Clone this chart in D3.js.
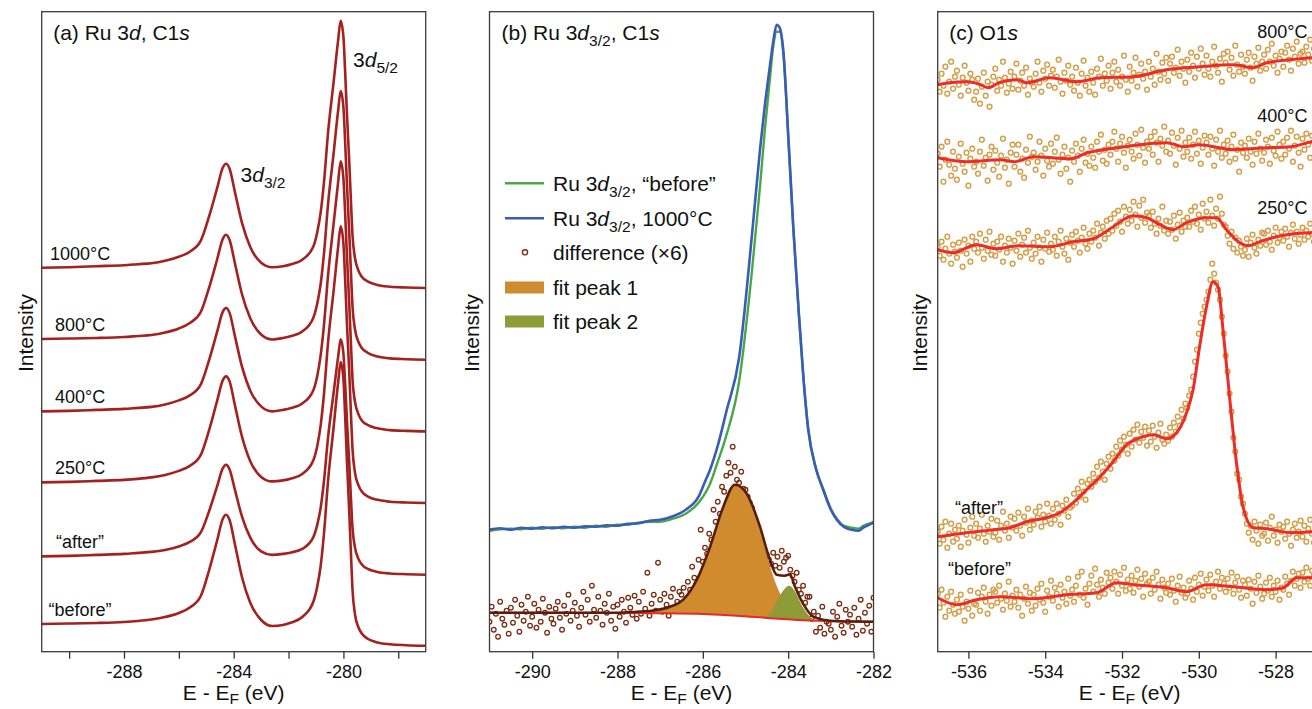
<!DOCTYPE html>
<html>
<head>
<meta charset="utf-8">
<script src="https://cdn.jsdelivr.net/npm/d3@7"></script>
<style>
  body { margin: 0; background: #fff; }
  text { font-family: "Liberation Sans", Arial, sans-serif; fill: #111; }
</style>
</head>
<body>
<svg id="fig" width="1312" height="709"></svg>
<script>
// ---------- panel (a): Ru 3d, C1s stacked spectra ----------
var aEnergy = [-291, -290, -289, -288, -287.5, -287, -286.5, -286, -285.6, -285.2,
  -284.9, -284.6, -284.4, -284.28, -284.15, -283.95, -283.7, -283.4, -283.0, -282.6,
  -282.2, -281.9, -281.5, -281.1, -280.95, -280.83, -280.71, -280.56, -280.36, -280.19,
  -280.1, -280.0, -279.94, -279.87, -279.79, -279.72, -279.67, -279.58, -279.45, -279.33,
  -279.1, -278.8, -278.3, -277.7, -277];
var aLabels = ["1000°C", "800°C", "400°C", "250°C", "\u201Cafter\u201D", "\u201Cbefore\u201D"];
var aOffsets = [384, 312.7, 240.3, 169.3, 95.3, 27.7];
var a1000 = [0, 0.5, 1.5, 2.5, 3.5, 4.5, 7, 11, 16, 27, 51, 80, 100, 104, 99, 75, 45, 21, 5, 0.5,
  1.5, 3.5, 8, 21, 36, 55, 85, 135, 185, 228, 247, 231, 198, 153, 108, 63, 33, 10, -3, -9,
  -14, -17, -19, -19.8, -20.3];
var a800 = [0, 0.5, 1, 2, 3, 4, 6.5, 10.5, 16, 27, 51, 80, 100, 104.3, 99, 75, 45, 21, 4.5, -0.5,
  1, 3, 7.5, 21, 36, 55, 85, 135, 185, 229, 248, 232, 199, 154, 108, 63, 33, 10, -3, -9,
  -14, -17.3, -19.4, -20.2, -20.7];
var a400 = [0, 0.5, 1.5, 2.5, 3.5, 4.5, 7, 11, 16, 27, 51, 80, 99.5, 103.4, 98.5, 74.5, 45, 21, 5, 0,
  1.5, 3.5, 8, 21, 36, 56, 86, 136, 187, 230, 250, 233, 200, 155, 109, 64, 33, 10, -3, -9,
  -13.8, -16.7, -18.7, -19.5, -20];
var a250 = [0, 0.5, 1.5, 2.5, 3.5, 5, 7.5, 11.5, 16.5, 27.5, 52, 82, 102, 106, 101, 76.5, 46, 21.5, 5.5, 1,
  2, 4, 8.5, 22, 37, 57, 88, 140, 191, 236, 256, 239, 205, 158, 112, 65, 34, 10, -3, -9,
  -14.2, -17.2, -19.3, -20.1, -20.6];
var aAfter = [0, 0.5, 1.5, 2.5, 3.5, 4.5, 6.5, 10, 14.5, 24, 45, 70.5, 88, 91.7, 87, 66, 40, 19, 5, 1.5,
  2.5, 4, 7.5, 19, 32, 48.5, 75, 119, 163, 200, 217, 203, 174, 135, 95, 55, 29, 9, -2.5, -8,
  -12.6, -15.3, -17.1, -17.8, -18.3];
var aBefore = [0, 0.5, 1, 2, 3, 4.5, 7, 11, 16.5, 28, 53.5, 84, 105, 109.3, 104, 79, 47, 21.5, 4, -2,
  -1, 1.5, 7, 22, 38, 58, 90, 143, 196, 242, 262, 245, 210, 162, 114, 67, 35, 10, -3.5, -9.5,
  -15, -18.2, -20.3, -21.2, -21.7];
var aSeries = [a1000, a800, a400, a250, aAfter, aBefore];
var aTicks = [-290, -288, -286, -284, -282, -280, -278];

// ---------- panel (b): Ru 3d3/2 + difference fit ----------
var bEnergy = [-291, -290.75, -290.5, -290.25, -290, -289.75, -289.5, -289.25, -289, -288.75,
  -288.5, -288.25, -288, -287.75, -287.5, -287.25, -287, -286.7, -286.4, -286.1,
  -285.95, -285.83, -285.65, -285.45, -285.15, -284.85, -284.66, -284.55, -284.43, -284.35,
  -284.27, -284.2, -284.11, -284.0, -283.88, -283.76, -283.65, -283.53, -283.35, -283.18,
  -283.0, -282.86, -282.7, -282.51, -282.35, -282.24, -282.1, -282];
var bBefore = [121, 122.5, 123, 122.5, 124, 123, 124.5, 123.5, 125, 124,
  126, 125, 127, 127, 129, 130, 130, 133, 138, 149,
  158, 168, 190, 216, 270, 380, 465, 520, 572, 605,
  620, 620, 597, 516, 423, 344, 278, 223, 184, 163,
  143, 133, 126, 124, 123, 126, 128, 130];
var b1000 = [122, 123.5, 122, 124, 123, 124.5, 123.5, 125, 124, 125.5,
  125, 126.5, 126, 128, 128.5, 131, 132, 135.5, 142, 155,
  170, 182, 206, 240, 294, 416, 502, 545, 585, 610,
  627, 624, 599, 518, 425, 345, 278, 222, 183, 162,
  142, 132, 125, 122, 121, 124, 127, 129];

var diffStart = -291, diffStep = 0.05;
var bDiff = [30, 45, 22, 38, 15, 50, 33, 27, 41, 18,
  44, 29, 52, 36, 20, 47, 31, 40, 55, 26,
  35, 48, 24, 42, 30, 53, 39, 19, 45, 33,
  28, 43, 50, 34, 22, 46, 38, 57, 31, 41,
  49, 36, 25, 44, 60, 37, 52, 30, 66, 42,
  34, 55, 41, 27, 48, 39, 58, 31, 45, 23,
  47, 35, 52, 40, 29, 54, 44, 37, 56, 33,
  50, 38, 60, 43, 79, 36, 48, 57, 41, 89,
  52, 40, 58, 47, 36, 55, 63, 44, 50, 60,
  57, 64, 49, 70, 62, 85, 74, 68, 92, 122,
  90, 104, 98, 118, 112, 142, 130, 150, 138, 165,
  160, 176, 189, 179, 205, 185, 172, 169, 180, 163,
  162, 155, 149, 144, 135, 128, 118, 112, 100, 95,
  97, 92, 88, 99, 86, 95, 84, 101, 90, 94,
  96, 82, 76, 70, 79, 62, 58, 66, 49, 55,
  55, 33, 40, 20, 36, 24, 45, 18, 30, 28,
  22, 40, 15, 35, 48, 26, 19, 42, 30, 37,
  25, 44, 17, 33, 52, 21, 39, 28, 46, 20,
  54];

var peak1Energy = [-287.6, -287.2, -286.77, -286.46, -286.14, -285.83, -285.52, -285.25,
  -284.97, -284.66, -284.43, -284.27, -284.08, -283.84, -283.6, -283.3];
var peak1Base = [38.6, 38.5, 38.3, 38.0, 37.8, 37.3, 36.7, 36.1, 35.3, 34.3, 33.5, 33.0, 32.5, 31.9, 31.3, 30.9];
var peak1Top = [38.6, 40, 44, 51, 71, 104, 144, 166, 157, 122, 86, 66, 50, 40, 34, 30.9];
var peak2Energy = [-284.6, -284.4, -284.25, -284.1, -283.98, -283.85, -283.7, -283.55, -283.35];
var peak2Base = [34.1, 33.4, 32.9, 32.5, 32.2, 31.8, 31.5, 31.2, 30.8];
var peak2Top = [34.1, 40, 52, 62, 66, 61, 48, 38, 30.8];
var envEnergy = [-291, -289, -288, -287.55, -287.2, -286.77, -286.46, -286.14, -285.83, -285.52,
  -285.25, -284.97, -284.66, -284.43, -284.27, -284.08, -283.96, -283.84, -283.65, -283.41,
  -283.02, -282.5, -282];
var envValue = [39, 39, 39, 40, 41, 45, 52, 72, 105, 145, 167, 158, 125, 92, 77, 76, 77.4, 65, 48, 35, 31, 30.2, 30];
var bgEnergy = [-291, -288, -287, -286, -285.2, -284.4, -283.65, -282.9, -282];
var bgValue = [39, 38.8, 38.5, 37.7, 36, 33.4, 31.4, 30.4, 30];
var bTicks = [-290, -288, -286, -284, -282];
var bLegend = ["before", "1000", "difference (×6)", "fit peak 1", "fit peak 2"];

// ---------- panel (c): O1s ----------
var cLabels = ["800°C", "400°C", "250°C", "\u201Cafter\u201D", "\u201Cbefore\u201D"];
var c800E = [-536.8, -536.5, -536.04, -535.75, -535.48, -535.2, -534.74, -534.48, -533.88, -533.18,
  -532.57, -531.71, -530.84, -529.98, -529.1, -528.58, -528.23, -527.05, -526.8];
var c800V = [567, 569, 570, 568, 564, 569, 572, 569, 574, 570, 574, 575, 582, 585, 587, 584, 589, 594, 595];
var c400E = [-536.8, -536.04, -535.17, -534.8, -534.3, -533.34, -532.9, -532.12, -530.84, -530.4,
  -529.98, -529.1, -528.23, -527.6, -527.05, -526.8];
var c400V = [494, 490, 492, 490, 495, 493, 499, 504, 509, 505, 507, 502, 504, 505, 510, 511];
var c250E = [-536.8, -536.4, -535.79, -535.27, -534.7, -533.88, -533.27, -532.75, -532.23, -531.71,
  -531.36, -531.01, -530.67, -530.32, -529.8, -529.54, -529.28, -528.93, -528.71, -528.41,
  -527.98, -527.05, -526.8];
var c250V = [402, 399, 407, 403, 406, 405, 410, 413, 425, 436, 434, 427, 422, 429, 434, 434, 422, 409, 406, 410, 415, 419, 419];
var cAfterE = [-536.8, -536.04, -535.35, -534.92, -534.48, -533.96, -533.62, -533.27, -532.92, -532.57,
  -532.23, -531.88, -531.53, -531.19, -530.84, -530.58, -530.32, -530.15, -529.98, -529.8,
  -529.63, -529.5, -529.37, -529.2, -529.02, -528.85, -528.58, -528.23, -527.6, -527.05, -526.8];
var cAfterV = [115, 119, 122, 124, 130, 134, 139, 149, 162, 175, 190, 207, 214, 217, 213, 219, 239, 262, 305, 345,
  370, 365, 322, 255, 189, 145, 124, 123, 119, 120, 121];
var cBeforeE = [-536.8, -536.3, -535.79, -535.17, -534.3, -533.44, -532.66, -532.14, -531.71, -530.84,
  -530.32, -529.8, -529.1, -528.23, -527.8, -527.45, -527.05, -526.8];
var cBeforeV = [54, 47, 52, 55, 53, 57, 59, 69, 67, 64, 60, 67, 65, 62, 64, 74, 74, 74];

var cDotStart = -536.8, cDotStep = 0.05;
var cDot800 = [572, 560, 578, 566, 585, 558, 570, 590, 563, 575, 581, 567, 556, 574, 586, 569, 561, 578, 572, 552,
  560, 573, 548, 565, 579, 556, 570, 545, 567, 575, 583, 561, 572, 566, 590, 574, 559, 568, 580, 563,
  575, 588, 562, 571, 579, 566, 584, 557, 573, 569, 565, 578, 590, 569, 560, 581, 573, 587, 566, 576,
  582, 564, 575, 592, 570, 558, 579, 571, 586, 567, 575, 561, 584, 569, 556, 578, 591, 566, 574, 560,
  580, 569, 557, 583, 575, 593, 566, 578, 571, 586, 563, 579, 590, 570, 582, 566, 575, 596, 572, 560,
  585, 571, 579, 594, 565, 577, 588, 573, 580, 562, 590, 575, 583, 567, 598, 580, 572, 589, 578, 594,
  571, 588, 595, 579, 584, 602, 576, 590, 583, 569, 592, 580, 599, 586, 574, 595, 583, 603, 588, 577,
  596, 583, 575, 590, 605, 586, 579, 593, 570, 598, 589, 600, 582, 594, 576, 606, 587, 580, 597, 585,
  578, 592, 599, 584, 571, 595, 588, 604, 581, 590, 597, 583, 602, 590, 608, 586, 596, 579, 593, 600,
  585, 599, 606, 592, 581, 603, 595, 610, 588, 598, 600, 589, 605, 597, 612, 591, 603, 585, 599, 608,
  596];
var cDot400 = [498, 485, 505, 470, 492, 510, 487, 476, 500, 483, 472, 495, 508, 488, 480, 499, 466, 493, 503, 485,
  490, 478, 500, 512, 486, 494, 471, 497, 505, 482, 501, 489, 475, 496, 513, 484, 492, 468, 499, 507,
  485, 497, 507, 480, 493, 474, 502, 489, 515, 495, 499, 482, 490, 510, 496, 476, 503, 491, 485, 508,
  488, 500, 514, 492, 478, 497, 505, 483, 494, 470, 501, 490, 508, 496, 480, 503, 512, 489, 498, 486,
  505, 494, 484, 510, 500, 517, 491, 502, 488, 507, 497, 510, 520, 503, 490, 508, 515, 499, 484, 506,
  512, 500, 493, 518, 507, 496, 522, 504, 489, 510, 503, 515, 497, 520, 509, 490, 513, 506, 525, 500,
  511, 498, 519, 506, 487, 514, 503, 521, 495, 509, 500, 514, 493, 507, 520, 498, 511, 488, 504, 516,
  509, 497, 515, 503, 486, 512, 500, 521, 494, 507, 498, 511, 490, 505, 517, 493, 502, 480, 509, 499,
  506, 494, 513, 500, 487, 510, 498, 518, 503, 491, 499, 512, 505, 488, 514, 501, 496, 520, 507, 493,
  510, 497, 514, 503, 521, 490, 506, 515, 499, 485, 513, 502, 518, 507, 494, 516, 510, 523, 505, 512,
  511];
var cDot250 = [405, 396, 410, 392, 403, 415, 398, 388, 407, 400, 394, 409, 401, 385, 412, 398, 406, 390, 415, 403,
  410, 399, 418, 404, 393, 412, 401, 420, 397, 408, 396, 410, 402, 415, 390, 406, 399, 413, 404, 388,
  411, 401, 418, 395, 407, 414, 399, 421, 404, 393, 409, 398, 415, 404, 390, 412, 403, 419, 400, 408,
  402, 415, 396, 410, 421, 405, 398, 413, 392, 409, 417, 405, 420, 411, 399, 414, 424, 408, 403, 418,
  410, 421, 414, 428, 406, 419, 425, 413, 431, 418, 433, 421, 438, 426, 441, 430, 420, 445, 435, 428,
  442, 431, 450, 437, 425, 446, 434, 452, 429, 439, 436, 424, 440, 428, 418, 433, 426, 445, 421, 431,
  418, 430, 422, 436, 413, 427, 439, 420, 431, 425, 434, 425, 441, 430, 445, 428, 437, 422, 448, 433,
  440, 429, 452, 436, 426, 443, 433, 455, 438, 427, 425, 416, 408, 420, 403, 414, 399, 411, 405, 396,
  402, 413, 395, 409, 417, 404, 398, 412, 406, 419, 418, 407, 421, 410, 402, 416, 424, 409, 414, 420,
  411, 423, 415, 405, 419, 427, 413, 420, 408, 417, 424, 412, 421, 415, 428, 418, 410, 425, 419, 422,
  420];
var cDotAfter = [120, 108, 125, 112, 130, 104, 118, 128, 110, 122, 113, 126, 105, 121, 132, 117, 109, 124, 135, 116,
  128, 114, 123, 137, 118, 110, 126, 120, 133, 115, 119, 131, 112, 126, 140, 121, 128, 114, 135, 124,
  133, 121, 139, 126, 116, 135, 129, 143, 122, 131, 127, 140, 134, 145, 125, 137, 130, 148, 136, 128,
  143, 132, 148, 138, 127, 146, 141, 152, 135, 144, 146, 158, 149, 163, 155, 170, 160, 152, 168, 172,
  165, 178, 170, 185, 174, 190, 180, 172, 188, 195, 183, 198, 191, 205, 196, 211, 202, 215, 207, 198,
  218, 205, 222, 212, 227, 209, 220, 214, 225, 206, 221, 210, 226, 215, 204, 219, 228, 212, 208, 217,
  211, 224, 215, 229, 220, 235, 226, 242, 233, 248, 244, 256, 262, 275, 290, 302, 318, 329, 338, 345,
  352, 360, 372, 388, 378, 369, 362, 352, 335, 318, 296, 280, 258, 240, 214, 200, 178, 172, 155, 148,
  138, 128, 119, 126, 112, 130, 121, 108, 127, 116, 118, 129, 111, 124, 135, 116, 122, 109, 127, 120,
  125, 113, 130, 118, 106, 122, 128, 114, 120, 131, 115, 126, 110, 123, 132, 118, 109, 124, 119, 127,
  121];
var cDotBefore = [58, 44, 62, 49, 35, 55, 41, 60, 47, 38, 52, 40, 57, 45, 31, 50, 43, 61, 36, 48,
  47, 59, 41, 55, 64, 50, 38, 57, 46, 62, 60, 49, 66, 53, 42, 58, 51, 70, 45, 56,
  50, 62, 44, 57, 36, 53, 65, 48, 59, 41, 57, 46, 63, 52, 68, 49, 40, 61, 55, 71,
  51, 64, 58, 45, 67, 54, 60, 48, 73, 56, 62, 50, 66, 75, 57, 80, 54, 63, 47, 68,
  76, 60, 83, 67, 55, 72, 64, 58, 79, 69, 74, 63, 80, 70, 58, 77, 66, 84, 61, 72,
  63, 76, 59, 71, 82, 65, 73, 55, 78, 68, 70, 58, 74, 62, 80, 67, 53, 72, 64, 59,
  68, 57, 73, 61, 50, 66, 75, 59, 64, 54, 58, 71, 63, 52, 74, 60, 67, 78, 56, 65,
  72, 61, 77, 66, 55, 70, 80, 63, 74, 68, 60, 73, 64, 79, 58, 69, 75, 62, 54, 71,
  67, 56, 72, 63, 48, 70, 59, 76, 65, 53, 58, 69, 61, 74, 55, 66, 60, 71, 52, 64,
  62, 75, 68, 57, 71, 80, 66, 73, 78, 64, 79, 70, 84, 73, 66, 81, 76, 69, 83, 75,
  77];
var cTicks = [-536, -534, -532, -530, -528];

// ---------- layout ----------
var svg = d3.select("#fig");
var plotTop = 11.7, plotBottom = 651.7, plotW = 384;
var y = d3.scaleLinear().domain([0, 640]).range([plotBottom, plotTop]);
var FONT = "'Liberation Sans', Arial, sans-serif";

function richText(sel, parts, size, subShift) {
  var shift = subShift || size * 0.3, down = false;
  parts.forEach(function(p) {
    if (typeof p === "string") p = {t: p};
    var ts = sel.append("tspan").text(p.t);
    if (p.it) ts.attr("font-style", "italic");
    if (p.sub) {
      ts.attr("font-size", size * 0.74).attr("dy", shift);
      down = true;
    } else if (down) {
      ts.attr("dy", -shift);
      down = false;
    }
  });
  return sel;
}

function makePanel(id, left, domain, ticks, tickFmt, ylabX) {
  var x = d3.scaleLinear().domain(domain).range([left, left + plotW]);
  var g = svg.append("g");
  g.append("clipPath").attr("id", "clip-" + id).append("rect")
    .attr("x", left).attr("y", plotTop).attr("width", plotW).attr("height", plotBottom - plotTop);
  var plot = g.append("g").attr("clip-path", "url(#clip-" + id + ")");

  var axis = d3.axisBottom(x).tickValues(ticks).tickSize(7).tickPadding(7).tickFormat(tickFmt);
  var ax = g.append("g").attr("transform", "translate(0," + plotBottom + ")").call(axis);
  ax.select(".domain").remove();
  ax.attr("font-family", FONT).attr("font-size", 18);
  ax.selectAll("line").attr("stroke", "#333").attr("stroke-width", 1.3);
  ax.selectAll("text").attr("fill", "#111");

  g.append("rect").attr("x", left).attr("y", plotTop).attr("width", plotW)
    .attr("height", plotBottom - plotTop).attr("fill", "none")
    .attr("stroke", "#3a3a3a").attr("stroke-width", 1.3);

  // axis title sits a little higher than the original so the subscript stays inside the page
  richText(g.append("text").attr("x", left + plotW / 2).attr("y", 700)
    .attr("text-anchor", "middle").attr("font-size", 21), ["E - E", {t: "F", sub: 1}, " (eV)"], 21, 4);

  g.append("text").attr("transform", "translate(" + ylabX + ",333) rotate(-90)")
    .attr("text-anchor", "middle").attr("font-size", 21).text("Intensity");

  return {x: x, g: g, plot: plot, left: left};
}

function plain(d) { return String(d); }

// ---------- draw panel (a) ----------
var pa = makePanel("a", 41.7, [-291, -277], aTicks,
  function(d) { return d % 4 === 0 ? String(d) : ""; }, 33);
var lineA = d3.line().curve(d3.curveMonotoneX)
  .x(function(d) { return pa.x(d[0]); }).y(function(d) { return y(d[1]); });
aSeries.forEach(function(vals, k) {
  var pts = aEnergy.map(function(e, i) { return [e, aOffsets[k] + vals[i]]; });
  pa.plot.append("path").datum(pts).attr("d", lineA)
    .attr("fill", "none").attr("stroke", "#a3211f").attr("stroke-width", 2.6)
    .attr("stroke-linejoin", "round");
  pa.g.append("text").attr("x", pa.x(-289.6)).attr("y", y(aOffsets[k]) - 8)
    .attr("text-anchor", "middle").attr("font-size", 18).text(aLabels[k]);
});
richText(pa.g.append("text").attr("x", pa.left + 11.5).attr("y", 40).attr("font-size", 21),
  ["(a) Ru 3", {t: "d", it: 1}, ", C1", {t: "s", it: 1}], 21);
richText(pa.g.append("text").attr("x", pa.x(-283.75)).attr("y", 181.5).attr("font-size", 21),
  ["3", {t: "d", it: 1}, {t: "3/2", sub: 1}], 21);
richText(pa.g.append("text").attr("x", pa.x(-279.65)).attr("y", 66.5).attr("font-size", 21),
  ["3", {t: "d", it: 1}, {t: "5/2", sub: 1}], 21);

// ---------- draw panel (b) ----------
var pb = makePanel("b", 489.5, [-291, -282], bTicks, plain, 479);
var lineB = d3.line().curve(d3.curveMonotoneX)
  .x(function(d) { return pb.x(d[0]); }).y(function(d) { return y(d[1]); });
var areaB = d3.area().curve(d3.curveMonotoneX)
  .x(function(d) { return pb.x(d[0]); }).y0(function(d) { return y(d[1]); }).y1(function(d) { return y(d[2]); });

var diffPts = bDiff.map(function(v, i) { return [diffStart + i * diffStep, v]; });
pb.plot.selectAll("circle.diff").data(diffPts).enter().append("circle")
  .attr("class", "diff").attr("cx", function(d) { return pb.x(d[0]); })
  .attr("cy", function(d) { return y(d[1]); }).attr("r", 2.3)
  .attr("fill", "none").attr("stroke", "#7b2d12").attr("stroke-width", 1.3);

pb.plot.append("path").datum(peak1Energy.map(function(e, i) { return [e, peak1Base[i], peak1Top[i]]; }))
  .attr("d", areaB).attr("fill", "#d08b2e");
pb.plot.append("path").datum(peak2Energy.map(function(e, i) { return [e, peak2Base[i], peak2Top[i]]; }))
  .attr("d", areaB).attr("fill", "#8e9b37");
pb.plot.append("path").datum(bgEnergy.map(function(e, i) { return [e, bgValue[i]]; }))
  .attr("d", lineB).attr("fill", "none").attr("stroke", "#e52a2a").attr("stroke-width", 2);
pb.plot.append("path").datum(envEnergy.map(function(e, i) { return [e, envValue[i]]; }))
  .attr("d", lineB).attr("fill", "none").attr("stroke", "#5a1d0c").attr("stroke-width", 2.6);
pb.plot.append("path").datum(bEnergy.map(function(e, i) { return [e, bBefore[i]]; }))
  .attr("d", lineB).attr("fill", "none").attr("stroke", "#46a846").attr("stroke-width", 2.4);
pb.plot.append("path").datum(bEnergy.map(function(e, i) { return [e, b1000[i]]; }))
  .attr("d", lineB).attr("fill", "none").attr("stroke", "#3b5bb8").attr("stroke-width", 2.6);

richText(pb.g.append("text").attr("x", pb.left + 12).attr("y", 40).attr("font-size", 21),
  ["(b) Ru 3", {t: "d", it: 1}, {t: "3/2", sub: 1}, ", C1", {t: "s", it: 1}], 21);

// legend
var legRows = [183.3, 218.3, 252.3, 287.5, 321.5];
var legX = pb.left + 15.5;
var leg = pb.g.append("g");
leg.append("line").attr("x1", legX).attr("x2", legX + 39).attr("y1", legRows[0]).attr("y2", legRows[0])
  .attr("stroke", "#46a846").attr("stroke-width", 2.6);
leg.append("line").attr("x1", legX).attr("x2", legX + 39).attr("y1", legRows[1]).attr("y2", legRows[1])
  .attr("stroke", "#3b5bb8").attr("stroke-width", 2.6);
leg.append("circle").attr("cx", legX + 20).attr("cy", legRows[2]).attr("r", 2.6)
  .attr("fill", "none").attr("stroke", "#7b2d12").attr("stroke-width", 1.4);
leg.append("rect").attr("x", legX).attr("y", legRows[3] - 6).attr("width", 39).attr("height", 12).attr("fill", "#d08b2e");
leg.append("rect").attr("x", legX).attr("y", legRows[4] - 6).attr("width", 39).attr("height", 12).attr("fill", "#8e9b37");
var legText = [
  ["Ru 3", {t: "d", it: 1}, {t: "3/2", sub: 1}, ", \u201Cbefore\u201D"],
  ["Ru 3", {t: "d", it: 1}, {t: "3/2", sub: 1}, ", 1000°C"],
  [bLegend[2]], [bLegend[3]], [bLegend[4]]
];
legText.forEach(function(parts, i) {
  richText(leg.append("text").attr("x", legX + 48).attr("y", legRows[i] + 7.5).attr("font-size", 21), parts, 21);
});

// ---------- draw panel (c) ----------
var pc = makePanel("c", 937.7, [-536.8, -526.8], cTicks, plain, 927);
var lineC = d3.line().curve(d3.curveMonotoneX)
  .x(function(d) { return pc.x(d[0]); }).y(function(d) { return y(d[1]); });
var cDots = [cDot800, cDot400, cDot250, cDotAfter, cDotBefore];
var cLines = [[c800E, c800V], [c400E, c400V], [c250E, c250V], [cAfterE, cAfterV], [cBeforeE, cBeforeV]];
cDots.forEach(function(vals, k) {
  var pts = vals.map(function(v, i) { return [cDotStart + i * cDotStep, v]; });
  pc.plot.append("g").selectAll("circle").data(pts).enter().append("circle")
    .attr("cx", function(d) { return pc.x(d[0]); }).attr("cy", function(d) { return y(d[1]); })
    .attr("r", 2.4).attr("fill", "none").attr("stroke", "#d39e47").attr("stroke-width", 1.4);
});
cLines.forEach(function(s) {
  pc.plot.append("path").datum(s[0].map(function(e, i) { return [e, s[1][i]]; }))
    .attr("d", lineC).attr("fill", "none").attr("stroke", "#ee2b25").attr("stroke-width", 3)
    .attr("stroke-linejoin", "round");
});
cLabels.forEach(function(lab, k) {
  var s = cLines[k];
  if (k < 3) {
    pc.g.append("text").attr("x", pc.x(-528.48)).attr("y", y(s[1][s[1].length - 1]) - 19)
      .attr("font-size", 18).text(lab);
  } else {
    pc.g.append("text").attr("x", pc.x(k === 3 ? -536.35 : -536.53)).attr("y", y(s[1][0]) - 23)
      .attr("font-size", 18).text(lab);
  }
});
richText(pc.g.append("text").attr("x", pc.left + 11.5).attr("y", 40).attr("font-size", 21),
  ["(c) O1", {t: "s", it: 1}], 21);
</script>
</body>
</html>
